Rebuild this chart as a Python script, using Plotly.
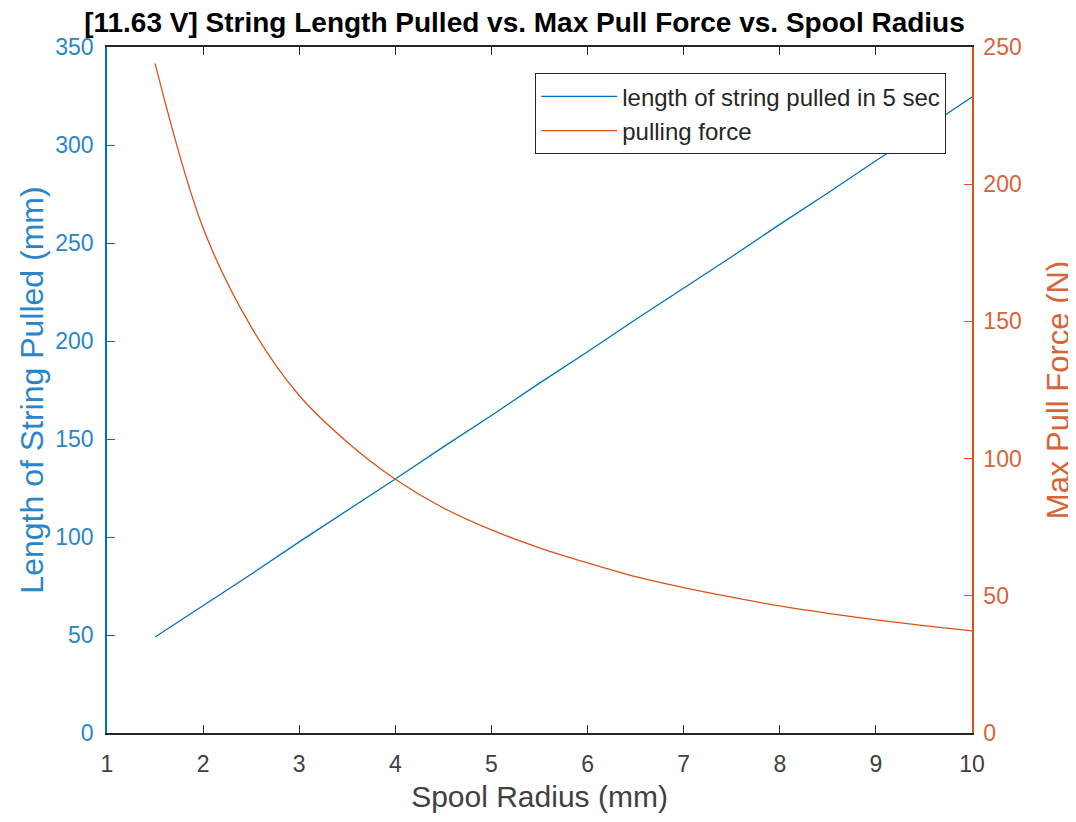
import plotly.graph_objects as go

# Spool radius (mm) at which values were read
radius = [1.5, 2.0, 2.5, 3.0, 3.5, 4.0, 4.5, 5.0, 5.5, 6.0, 6.5, 7.0, 7.5, 8.0, 8.5, 9.0, 9.5, 10.0]
# Length of string pulled in 5 sec (mm)
length_mm = [49, 65, 81, 97.5, 113.5, 129.6, 146, 162, 178.5, 194.5, 211, 227, 243, 259.5, 275.5, 292, 308, 324.5]
# Max pull force (N)
force_n = [244, 184, 148, 123, 106, 92.5, 82, 74, 67.5, 62, 57, 53, 49.5, 46.3, 43.6, 41.2, 39.1, 37.2]

x_ticks = [1, 2, 3, 4, 5, 6, 7, 8, 9, 10]
y1_ticks = [0, 50, 100, 150, 200, 250, 300, 350]
y2_ticks = [0, 50, 100, 150, 200, 250]

BLUE = "#0072BD"
BLUE_TXT = "#2A86C8"
ORANGE = "#D95319"
ORANGE_TXT = "#D9643A"
DARK = "#262626"
FONT = "Liberation Sans, Arial, sans-serif"

fig = go.Figure()
fig.add_trace(go.Scatter(x=radius, y=length_mm, mode="lines", name="length of string pulled in 5 sec",
                         line=dict(color=BLUE, width=1.3), yaxis="y"))
fig.add_trace(go.Scatter(x=radius, y=force_n, mode="lines", name="pulling force",
                         line=dict(color=ORANGE, width=1.3, shape="spline", smoothing=1.0), yaxis="y2"))

fig.update_layout(
    width=1076, height=822,
    margin=dict(l=99, r=112, t=39, b=97),
    paper_bgcolor="white", plot_bgcolor="white",
    font=dict(family=FONT, size=23, color=DARK),
    title=dict(text="<b>[11.63 V] String Length Pulled vs. Max Pull Force vs. Spool Radius</b>",
               x=0.48, xanchor="center", y=0.983, yanchor="middle", yref="container",
               font=dict(family=FONT, size=28, color="black")),
    xaxis=dict(range=[1, 10], tickvals=x_ticks, ticks="inside", ticklen=8, tickcolor=DARK,
               showline=True, linecolor=DARK, linewidth=1.5, mirror="ticks", showgrid=False, zeroline=False,
               tickfont=dict(size=23, color="#404040"), ticklabelstandoff=10,
               title=dict(text="Spool Radius (mm)", font=dict(size=30, color="#404040"), standoff=10)),
    yaxis=dict(range=[0, 350], tickvals=y1_ticks, ticks="inside", ticklen=8, tickcolor=BLUE,
               showline=True, linecolor=BLUE, linewidth=1.5, showgrid=False, zeroline=False,
               tickfont=dict(size=23, color=BLUE_TXT), ticklabelstandoff=7,
               title=dict(text="Length of String Pulled (mm)", font=dict(size=32, color=BLUE_TXT), standoff=2)),
    yaxis2=dict(range=[0, 250], tickvals=y2_ticks, ticks="inside", ticklen=8, tickcolor=ORANGE,
                overlaying="y", side="right",
                showline=True, linecolor=ORANGE, linewidth=1.5, showgrid=False, zeroline=False,
                tickfont=dict(size=23, color=ORANGE_TXT), ticklabelstandoff=5,
                title=dict(text="Max Pull Force (N)", font=dict(size=31, color=ORANGE_TXT), standoff=27)),
    legend=dict(x=0.970, y=0.962, xanchor="right", yanchor="top",
                bgcolor="white", bordercolor=DARK, borderwidth=1.2,
                font=dict(size=24, color=DARK), itemwidth=76, tracegroupgap=0),
    showlegend=True,
)

fig.write_html("out.html")
